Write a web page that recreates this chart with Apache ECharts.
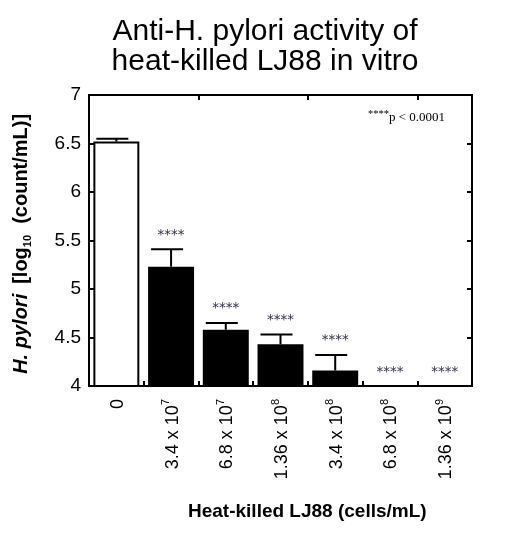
<!DOCTYPE html>
<html>
<head>
<meta charset="utf-8">
<script src="https://cdn.jsdelivr.net/npm/echarts@6/dist/echarts.min.js"></script>
<style>
  html, body { margin: 0; padding: 0; background: #fff; }
  #chart { width: 511px; height: 534px; }
</style>
</head>
<body>
<div id="chart"></div>
<script>
// values
const doses = ["0", "3.4 x 10|7", "6.8 x 10|7", "1.36 x 10|8", "3.4 x 10|8", "6.8 x 10|8", "1.36 x 10|9"];
const means = [6.52, 5.23, 4.58, 4.43, 4.16, 4.0, 4.0];
const errors = [0.03, 0.18, 0.07, 0.10, 0.16, 0, 0];
const marks = ["", "****", "****", "****", "****", "****", "****"];
const yTicks = { min: 4, max: 7, step: 0.5 };

const FONT = "Liberation Sans, Arial, sans-serif";
const SERIF = "Liberation Serif, Times New Roman, serif";

const chart = echarts.init(document.getElementById("chart"), null, { renderer: "canvas" });

const option = {
  animation: false,
  backgroundColor: "#fff",
  title: {
    text: "Anti-H. pylori activity of\nheat-killed LJ88 in vitro",
    left: 260,
    top: 12,
    textAlign: "center",
    textStyle: { fontFamily: FONT, fontSize: 30, fontWeight: "normal", color: "#000", lineHeight: 30 }
  },
  grid: {
    left: 89, right: 39, top: 95, bottom: 148,
    show: true, borderColor: "#000", borderWidth: 2, backgroundColor: "transparent"
  },
  xAxis: [{
    type: "category",
    data: doses,
    position: "bottom",
    axisLine: { show: true, lineStyle: { color: "#000", width: 2 } },
    axisTick: { show: true, inside: true, length: 5, lineStyle: { color: "#000", width: 2 } },
    axisLabel: {
      rotate: 90,
      margin: 13,
      color: "#000",
      fontFamily: FONT,
      fontSize: 18,
      formatter: v => {
        const [base, exp] = v.split("|");
        return exp ? `{b|${base}}{s|${exp}}` : `{b|${base}}`;
      },
      rich: {
        b: { fontFamily: FONT, fontSize: 18, color: "#000", lineHeight: 21, verticalAlign: "bottom" },
        s: { fontFamily: FONT, fontSize: 11, color: "#000", lineHeight: 21, verticalAlign: "top" }
      }
    }
  }, {
    type: "category",
    data: doses,
    position: "top",
    axisLine: { show: true, lineStyle: { color: "#000", width: 2 } },
    axisTick: { show: true, inside: true, length: 5, lineStyle: { color: "#000", width: 2 } },
    axisLabel: { show: false }
  }],
  yAxis: [{
    type: "value",
    min: yTicks.min, max: yTicks.max, interval: yTicks.step,
    splitLine: { show: false },
    axisLine: { show: true, lineStyle: { color: "#000", width: 2 } },
    axisTick: { show: true, inside: true, length: 5, lineStyle: { color: "#000", width: 2 } },
    axisLabel: { color: "#000", fontFamily: FONT, fontSize: 19, margin: 8 },
    name: "{i|H. pylori}   {b|[log}{u|10}{b|  (count/mL)]}  ",
    nameLocation: "middle",
    nameGap: 56,
    nameRotate: 90,
    nameTextStyle: {
      rich: {
        i: { fontFamily: FONT, fontSize: 20, fontWeight: "bold", fontStyle: "italic", color: "#000", lineHeight: 23 },
        b: { fontFamily: FONT, fontSize: 20, fontWeight: "bold", color: "#000", lineHeight: 23 },
        u: { fontFamily: FONT, fontSize: 11, fontWeight: "bold", color: "#000", lineHeight: 23, verticalAlign: "bottom" }
      }
    }
  }, {
    type: "value",
    position: "right",
    min: yTicks.min, max: yTicks.max, interval: yTicks.step,
    splitLine: { show: false },
    axisLine: { show: true, lineStyle: { color: "#000", width: 2 } },
    axisTick: { show: true, inside: true, length: 5, lineStyle: { color: "#000", width: 2 } },
    axisLabel: { show: false }
  }],
  graphic: [{
    type: "text",
    left: 368, top: 109,
    style: {
      text: "{s|****}{n|p < 0.0001}",
      rich: {
        s: { fontFamily: SERIF, fontSize: 10.5, fill: "#000", verticalAlign: "top", lineHeight: 15 },
        n: { fontFamily: SERIF, fontSize: 13, fill: "#000", lineHeight: 15, verticalAlign: "bottom" }
      }
    }
  }, {
    type: "text",
    left: 188, top: 502,
    style: {
      text: "Heat-killed LJ88 (cells/mL)",
      fontFamily: FONT, fontSize: 19, fontWeight: "bold", fill: "#000"
    }
  }],
  series: [{
    type: "bar",
    barCategoryGap: "16%",
    data: means.map((v, i) => ({
      value: v,
      itemStyle: i === 0
        ? { color: "#fff", borderColor: "#000", borderWidth: 2 }
        : { color: "#000" }
    }))
  }, {
    type: "custom",
    z: 5,
    data: means.map((v, i) => [i, v, errors[i]]),
    renderItem: (params, api) => {
      const i = api.value(0), v = api.value(1), e = api.value(2);
      const base = api.coord([i, v]);
      const top = api.coord([i, v + e]);
      const children = [];
      if (e > 0) {
        children.push({ type: "line", shape: { x1: base[0], y1: base[1], x2: top[0], y2: top[1] }, style: { stroke: "#000", lineWidth: 2 } });
        children.push({ type: "line", shape: { x1: top[0] - 20, y1: top[1], x2: top[0] + 12, y2: top[1] }, style: { stroke: "#000", lineWidth: 2 } });
      }
      if (marks[i]) {
        children.push({
          type: "text",
          style: { text: marks[i], x: top[0], y: top[1] - 14, align: "center", verticalAlign: "middle",
                   fontFamily: "DejaVu Sans, sans-serif", fontSize: 13.5, fill: "#33334a" }
        });
      }
      return { type: "group", children };
    }
  }]
};

chart.setOption(option);
</script>
</body>
</html>
